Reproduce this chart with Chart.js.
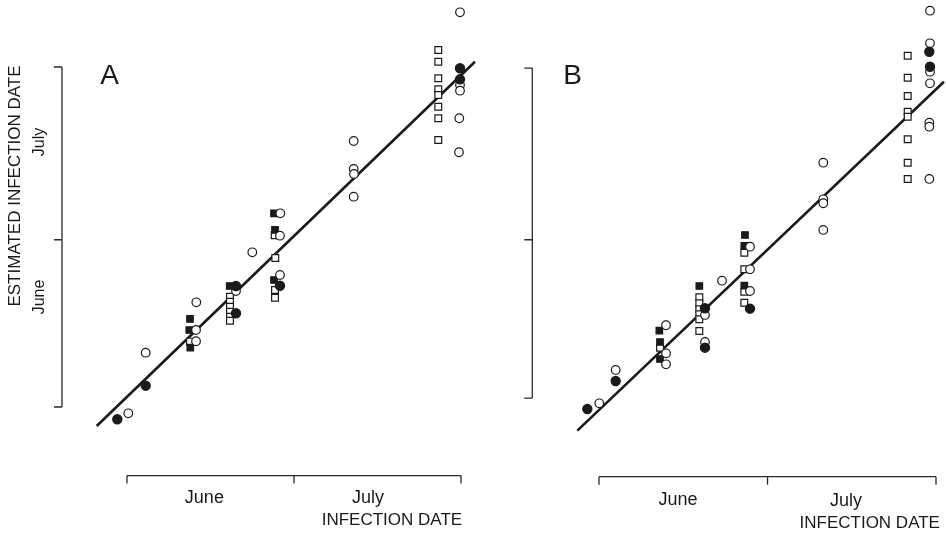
<!DOCTYPE html>
<html>
<head>
<meta charset="utf-8">
<script src="https://cdn.jsdelivr.net/npm/chart.js@4/dist/chart.umd.min.js"></script>
<style>
html,body{margin:0;padding:0;background:#fff;}
#wrap{position:relative;width:946px;height:534px;overflow:hidden;background:#fff;}
canvas{position:absolute;top:0;}
#cA{left:0;}
#cB{left:480px;}
</style>
</head>
<body>
<div id="wrap">
<canvas id="cA" width="490" height="534"></canvas>
<canvas id="cB" width="466" height="534"></canvas>
</div>
<script>
// ---- Data (days since June 1; x = infection date, y = estimated infection date) ----
const monthLabels = ['June', 'July'];
const yAxisTitle = 'ESTIMATED INFECTION DATE';
const xAxisTitle = 'INFECTION DATE';
const panelLetters = ['A', 'B'];
const xTicksA = [0, 30, 60];
const yTicksA = [0, 30, 61];
const xTicksB = [0, 30, 60];
const yTicksB = [1.6, 30, 60.8];

const A_filledCircles = [[-1.74,-2.21],[3.36,3.82],[19.58,21.71],[19.58,16.81],[27.48,21.76],[59.82,60.77],[59.82,58.79]];
const A_openCircles = [[0.23,-1.13],[3.36,9.74],[12.45,18.78],[12.40,13.81],[12.40,11.79],[19.58,20.81],[22.51,27.75],[27.54,34.75],[27.48,30.73],[27.48,23.68],[40.72,47.72],[40.72,42.70],[40.78,41.80],[40.72,37.73],[59.82,70.81],[59.82,57.77],[59.82,56.75],[59.69,51.80],[59.64,45.70]];
const A_filledSquares = [[11.32,15.79],[11.19,13.81],[11.37,10.64],[18.45,21.71],[26.41,34.75],[26.59,31.76],[26.41,22.78]];
const A_openSquares = [[11.32,11.72],[18.50,19.79],[18.50,18.89],[18.50,17.99],[18.50,17.10],[18.50,16.20],[18.50,15.48],[26.53,30.80],[26.64,26.73],[26.59,20.99],[26.59,19.61],[55.92,64.05],[55.92,61.95],[55.92,58.97],[55.92,57.00],[55.92,55.98],[55.92,53.88],[55.92,51.80],[55.92,47.90]];
const A_fitLine = [[-5.44,-3.41],[62.51,61.95]];

const B_filledCircles = [[-2.08,-0.36],[2.97,4.66],[18.87,17.71],[18.87,10.64],[26.88,17.64],[58.93,61.05],[58.81,63.74]];
const B_openCircles = [[0.05,0.66],[2.97,6.64],[11.93,14.66],[11.93,9.63],[11.93,7.66],[18.87,16.51],[18.87,11.66],[21.90,22.66],[26.88,28.76],[26.88,24.70],[26.88,20.81],[39.93,43.83],[39.93,37.26],[39.93,36.55],[39.93,31.76],[58.93,71.10],[58.93,65.25],[58.93,60.16],[58.93,58.07],[58.81,51.01],[58.81,50.29],[58.81,40.91]];
const B_filledSquares = [[10.74,13.69],[10.86,11.66],[10.86,8.61],[17.86,21.71],[25.99,30.86],[25.87,28.89],[25.87,21.76]];
const B_openSquares = [[10.86,10.64],[17.86,19.68],[17.86,18.60],[17.86,17.53],[17.86,16.63],[17.86,15.73],[17.86,13.64],[25.87,27.68],[25.87,24.70],[25.87,20.69],[25.87,18.71],[54.96,63.03],[54.96,59.08],[54.96,55.80],[54.96,52.98],[54.96,52.08],[54.96,48.03],[54.96,43.83],[54.96,40.91]];
const B_fitLine = [[-3.86,-4.25],[61.42,58.36]];

// ---- Rendering ----
const FONT = '"Liberation Sans", Arial, Helvetica, sans-serif';
const INK = '#1a1a1a';
const toPts = arr => arr.map(p => ({x: p[0], y: p[1]}));

const bracketPlugin = {
  id: 'bracketAxes',
  afterDatasetsDraw(chart, args, o) {
    const {ctx} = chart;
    const x = chart.scales.x, y = chart.scales.y;
    ctx.save();
    ctx.strokeStyle = '#2a2a2a';
    ctx.lineWidth = 1.3;
    // Y bracket
    const ax = x.getPixelForValue(o.yAxisAt);
    const yT = o.yTicks.map(v => y.getPixelForValue(v));
    ctx.beginPath();
    ctx.moveTo(ax, Math.min(...yT)); ctx.lineTo(ax, Math.max(...yT));
    yT.forEach(py => { ctx.moveTo(ax, py); ctx.lineTo(ax - 8, py); });
    ctx.stroke();
    // X bracket
    const ay = y.getPixelForValue(o.xAxisAt);
    const xT = o.xTicks.map(v => x.getPixelForValue(v));
    ctx.beginPath();
    ctx.moveTo(Math.min(...xT), ay); ctx.lineTo(Math.max(...xT), ay);
    xT.forEach(px => { ctx.moveTo(px, ay); ctx.lineTo(px, ay + 8); });
    ctx.stroke();

    ctx.fillStyle = INK;
    ctx.textBaseline = 'middle';
    // x month labels
    ctx.font = '18px ' + FONT;
    ctx.textAlign = 'center';
    o.xMonthPos.forEach((p, i) => ctx.fillText(monthLabels[i], x.getPixelForValue(p[0]), y.getPixelForValue(p[1])));
    // x axis title
    ctx.font = '17px ' + FONT;
    ctx.textAlign = 'right';
    ctx.fillText(xAxisTitle, x.getPixelForValue(o.xTitlePos[0]), y.getPixelForValue(o.xTitlePos[1]));
    // panel letter
    ctx.font = '28px ' + FONT;
    ctx.textAlign = 'center';
    ctx.fillText(o.letter, x.getPixelForValue(o.letterPos[0]), y.getPixelForValue(o.letterPos[1]));
    // y axis title and month labels (panel A only)
    if (o.yTitlePos) {
      ctx.save();
      ctx.translate(x.getPixelForValue(o.yTitlePos[0]), y.getPixelForValue(o.yTitlePos[1]));
      ctx.rotate(-Math.PI / 2);
      ctx.font = '17px ' + FONT;
      ctx.textAlign = 'center';
      ctx.fillText(yAxisTitle, 0, 0);
      ctx.restore();
      o.yMonthPos.forEach((p, i) => {
        ctx.save();
        ctx.translate(x.getPixelForValue(p[0]), y.getPixelForValue(p[1]));
        ctx.rotate(-Math.PI / 2);
        ctx.font = '16px ' + FONT;
        ctx.textAlign = 'center';
        ctx.fillText(monthLabels[i], 0, 0);
        ctx.restore();
      });
    }
    ctx.restore();
  }
};

function makePanel(canvasId, series, scaleRange, axisOpts) {
  const pointSet = (data, style, filled, r) => ({
    type: 'scatter',
    data: toPts(data),
    pointStyle: style,
    pointRadius: r,
    pointHoverRadius: r,
    backgroundColor: filled ? INK : '#ffffff',
    borderColor: INK,
    pointBorderWidth: 1.2,
    borderWidth: 1.2,
    order: 0
  });
  return new Chart(document.getElementById(canvasId), {
    data: {
      datasets: [
        pointSet(series.filledCircles, 'circle', true, 4.6),
        pointSet(series.openCircles, 'circle', false, 4.3),
        pointSet(series.filledSquares, 'rect', true, 4.6),
        pointSet(series.openSquares, 'rect', false, 4.8),
        {
          type: 'line',
          data: toPts(series.fitLine),
          borderColor: INK,
          borderWidth: 2.6,
          pointRadius: 0,
          fill: false,
          tension: 0,
          order: 1
        }
      ]
    },
    options: {
      responsive: false,
      animation: false,
      events: [],
      layout: {padding: 0, autoPadding: false},
      plugins: {legend: {display: false}, tooltip: {enabled: false}, bracketAxes: axisOpts},
      scales: {
        x: {type: 'linear', display: false, min: scaleRange.xMin, max: scaleRange.xMax},
        y: {type: 'linear', display: false, min: scaleRange.yMin, max: scaleRange.yMax}
      }
    },
    plugins: [bracketPlugin]
  });
}

makePanel('cA',
  {filledCircles: A_filledCircles, openCircles: A_openCircles, filledSquares: A_filledSquares, openSquares: A_openSquares, fitLine: A_fitLine},
  {xMin: -22.814, xMax: 65.21, yMin: -22.79, yMax: 73.02},
  {yAxisAt: -11.68, xAxisAt: -12.3, xTicks: xTicksA, yTicks: yTicksA,
   xMonthPos: [[13.9, -16.3], [43.3, -16.4]], xTitlePos: [60.2, -20.3],
   letter: panelLetters[0], letterPos: [-3.14, 59.26],
   yTitlePos: [-20.03, 39.65], yMonthPos: [[-15.63, 19.74], [-15.63, 47.54]]});

makePanel('cB',
  {filledCircles: B_filledCircles, openCircles: B_openCircles, filledSquares: B_filledSquares, openSquares: B_openSquares, fitLine: B_fitLine},
  {xMin: -21.19, xMax: 61.78, yMin: -22.79, yMax: 73.02},
  {yAxisAt: -11.88, xAxisAt: -12.5, xTicks: xTicksB, yTicks: yTicksB,
   xMonthPos: [[14.07, -16.7], [43.98, -16.8]], xTitlePos: [60.7, -20.9],
   letter: panelLetters[1], letterPos: [-4.72, 59.3]});
</script>
</body>
</html>
